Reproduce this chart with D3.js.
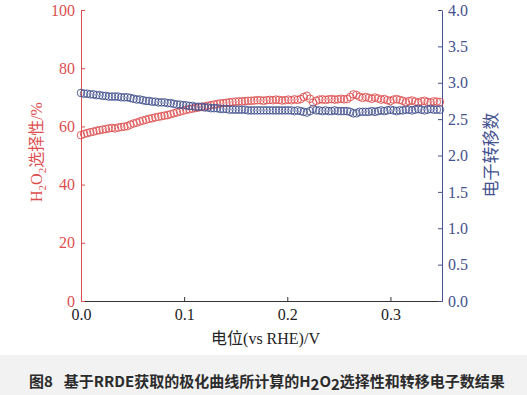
<!DOCTYPE html>
<html>
<head>
<meta charset="utf-8">
<script src="https://cdn.jsdelivr.net/npm/d3@7"></script>
<style>
  body { margin: 0; background: #fff; }
  #chart { width: 527px; height: 395px; }
</style>
</head>
<body>
<div id="chart"></div>
<script>
// potential (V vs RHE), one reading every 3 mV
const potential = [
  0.000, 0.003, 0.006, 0.009, 0.012, 0.015, 0.018, 0.021, 0.024, 0.027,
  0.030, 0.033, 0.036, 0.039, 0.042, 0.045, 0.048, 0.051, 0.054, 0.057,
  0.060, 0.063, 0.066, 0.069, 0.072, 0.075, 0.078, 0.081, 0.084, 0.087,
  0.090, 0.093, 0.096, 0.099, 0.102, 0.105, 0.108, 0.111, 0.114, 0.117,
  0.120, 0.123, 0.126, 0.129, 0.132, 0.135, 0.138, 0.141, 0.144, 0.147,
  0.150, 0.153, 0.156, 0.159, 0.162, 0.165, 0.168, 0.171, 0.174, 0.177,
  0.180, 0.183, 0.186, 0.189, 0.192, 0.195, 0.198, 0.201, 0.204, 0.207,
  0.210, 0.213, 0.216, 0.219, 0.222, 0.225, 0.228, 0.231, 0.234, 0.237,
  0.240, 0.243, 0.246, 0.249, 0.252, 0.255, 0.258, 0.261, 0.264, 0.267,
  0.270, 0.273, 0.276, 0.279, 0.282, 0.285, 0.288, 0.291, 0.294, 0.297,
  0.300, 0.303, 0.306, 0.309, 0.312, 0.315, 0.318, 0.321, 0.324, 0.327,
  0.330, 0.333, 0.336, 0.339, 0.342, 0.345, 0.348
]

// H2O2 selectivity (%)
const selectivity = [
  57.0, 57.4, 57.7, 58.0, 58.2, 58.5, 58.7, 58.9, 59.1, 59.3,
  59.5, 59.3, 59.6, 59.8, 59.9, 60.1, 60.6, 61.0, 61.3, 61.7,
  62.0, 62.3, 62.6, 62.8, 63.1, 63.3, 63.5, 63.7, 63.9, 64.2,
  64.5, 64.8, 65.1, 65.4, 65.7, 65.9, 66.1, 66.3, 66.5, 66.7,
  66.9, 67.1, 67.3, 67.5, 67.7, 67.9, 68.0, 68.1, 68.3, 68.4,
  68.5, 68.6, 68.6, 68.7, 68.8, 68.8, 68.9, 69.0, 69.0, 68.8,
  69.0, 69.1, 69.0, 69.2, 69.1, 68.9, 69.0, 69.2, 69.0, 69.3,
  69.1, 69.4, 70.1, 70.5, 69.5, 68.2, 68.8, 69.2, 69.3, 69.1,
  69.3, 69.4, 69.2, 69.3, 69.5, 69.3, 69.4, 70.1, 71.0, 70.8,
  70.2, 69.8, 70.1, 69.8, 69.5, 69.9, 69.6, 69.2, 69.4, 69.0,
  68.7, 69.2, 69.4, 69.1, 68.8, 68.3, 68.7, 68.9, 68.5, 68.2,
  68.6, 68.8, 68.4, 68.2, 68.6, 68.5, 68.4
]

// electron transfer number
const electronNumber = [
  2.86, 2.85, 2.85, 2.84, 2.84, 2.83, 2.83, 2.82, 2.82, 2.81,
  2.81, 2.81, 2.81, 2.80, 2.80, 2.80, 2.79, 2.78, 2.77, 2.77,
  2.76, 2.75, 2.75, 2.74, 2.74, 2.73, 2.73, 2.73, 2.72, 2.72,
  2.71, 2.70, 2.70, 2.69, 2.69, 2.68, 2.68, 2.67, 2.67, 2.67,
  2.66, 2.66, 2.65, 2.65, 2.65, 2.64, 2.64, 2.64, 2.63, 2.63,
  2.63, 2.63, 2.63, 2.63, 2.62, 2.62, 2.62, 2.62, 2.62, 2.62,
  2.62, 2.62, 2.62, 2.62, 2.62, 2.62, 2.62, 2.62, 2.62, 2.61,
  2.62, 2.61, 2.60, 2.59, 2.61, 2.64, 2.62, 2.62, 2.61, 2.62,
  2.61, 2.61, 2.62, 2.61, 2.61, 2.61, 2.61, 2.60, 2.58, 2.58,
  2.60, 2.60, 2.60, 2.60, 2.61, 2.60, 2.61, 2.62, 2.61, 2.62,
  2.63, 2.62, 2.61, 2.62, 2.62, 2.63, 2.63, 2.62, 2.63, 2.64,
  2.63, 2.62, 2.63, 2.64, 2.63, 2.63, 2.63
]

const xTicks = [0.0, 0.1, 0.2, 0.3]
const yLeftTicks = [0, 20, 40, 60, 80, 100]
const yRightTicks = [0.0, 0.5, 1.0, 1.5, 2.0, 2.5, 3.0, 3.5, 4.0]

const xLabel = "电位(vs RHE)/V"
const yRightLabel = "电子转移数"
const caption = ["图8\u2002 基于RRDE获取的极化曲线所计算的H", "2", "O", "2", "选择性和转移电子数结果"]

const width = 527
const height = 395
const marginTop = 10
const marginBottom = 94       // bottom of plot at y = 301
const marginLeft = 81
const marginRight = 85        // right axis at x = 442

const red = "#dc4f50"
const blue = "#44528f"
const serif = "'Liberation Serif', 'DejaVu Serif', serif"
const cjk = "'Liberation Serif', 'Noto Sans CJK SC', serif"

const svg = d3.select("#chart")
    .append("svg")
    .attr("width", width)
    .attr("height", height)
    .attr("viewBox", [0, 0, width, height])

const xScale = d3.scaleLinear([0, 0.35], [marginLeft, width - marginRight])
const yLeft = d3.scaleLinear([0, 100], [height - marginBottom, marginTop])
const yRight = d3.scaleLinear([0, 4], [height - marginBottom, marginTop])

// caption band
svg.append("rect")
    .attr("x", 0)
    .attr("y", 355)
    .attr("width", width)
    .attr("height", height - 355)
    .attr("fill", "#f2f2f2")

const cap = svg.append("text")
    .attr("x", 29)
    .attr("y", 387)
    .attr("fill", "#2b2b2b")
    .attr("font-family", "'Noto Sans CJK SC', sans-serif")
    .attr("font-weight", "bold")
    .attr("font-size", 15)
caption.forEach((s, i) => {
    const t = cap.append("tspan").text(s)
    if (s === "2") t.attr("dy", 3)
    else if (i > 0 && caption[i - 1] === "2") t.attr("dy", -3)
})

// x axis
svg.append("g")
    .attr("transform", `translate(0,${height - marginBottom})`)
    .call(d3.axisBottom(xScale).tickValues(xTicks).tickFormat(d3.format(".1f")).tickSizeInner(-4).tickSizeOuter(0).tickPadding(8))
    .call(g => g.select(".domain").attr("stroke", "#333"))
    .call(g => g.selectAll(".tick line").attr("stroke", "#333"))
    .call(g => g.selectAll("text").attr("fill", "#222").attr("font-size", 16).attr("font-family", serif))

// left axis
svg.append("g")
    .attr("transform", `translate(${marginLeft},0)`)
    .call(d3.axisLeft(yLeft).tickValues(yLeftTicks).tickSizeInner(-4).tickSizeOuter(0).tickPadding(6))
    .call(g => g.select(".domain").attr("stroke", red))
    .call(g => g.selectAll(".tick line").attr("stroke", red))
    .call(g => g.selectAll("text").attr("fill", red).attr("font-size", 16).attr("font-family", serif))

// right axis
svg.append("g")
    .attr("transform", `translate(${width - marginRight},0)`)
    .call(d3.axisRight(yRight).tickValues(yRightTicks).tickFormat(d3.format(".1f")).tickSizeInner(-4).tickSizeOuter(0).tickPadding(6))
    .call(g => g.select(".domain").attr("stroke", blue))
    .call(g => g.selectAll(".tick line").attr("stroke", blue))
    .call(g => g.selectAll("text").attr("fill", blue).attr("font-size", 16).attr("font-family", serif))

// axis titles
svg.append("text")
    .attr("x", (marginLeft + width - marginRight) / 2 + 4)
    .attr("y", 344)
    .attr("text-anchor", "middle")
    .attr("fill", "#222")
    .attr("font-size", 16)
    .attr("font-family", cjk)
    .text(xLabel)

const yl = svg.append("text")
    .attr("transform", `translate(42,152) rotate(-90)`)
    .attr("text-anchor", "middle")
    .attr("fill", red)
    .attr("font-size", 16)
    .attr("font-family", cjk)
yl.append("tspan").text("H")
yl.append("tspan").text("2").attr("font-size", 11).attr("dy", 4)
yl.append("tspan").text("O").attr("dy", -4)
yl.append("tspan").text("2").attr("font-size", 11).attr("dy", 4)
yl.append("tspan").text("选择性/%").attr("dy", -4)

svg.append("text")
    .attr("transform", `translate(497,155) rotate(-90)`)
    .attr("text-anchor", "middle")
    .attr("fill", blue)
    .attr("font-size", 17)
    .attr("font-family", cjk)
    .text(yRightLabel)

const I = d3.range(potential.length)

// markers: open circles
svg.append("g")
    .attr("fill", "none")
    .attr("stroke", red)
    .attr("stroke-width", 0.9)
    .selectAll("circle")
    .data(I)
    .join("circle")
    .attr("cx", i => xScale(potential[i]))
    .attr("cy", i => yLeft(selectivity[i]))
    .attr("r", 3.8)

svg.append("g")
    .attr("fill", "none")
    .attr("stroke", blue)
    .attr("stroke-width", 0.9)
    .selectAll("circle")
    .data(I)
    .join("circle")
    .attr("cx", i => xScale(potential[i]))
    .attr("cy", i => yRight(electronNumber[i]))
    .attr("r", 3.8)
</script>
</body>
</html>
